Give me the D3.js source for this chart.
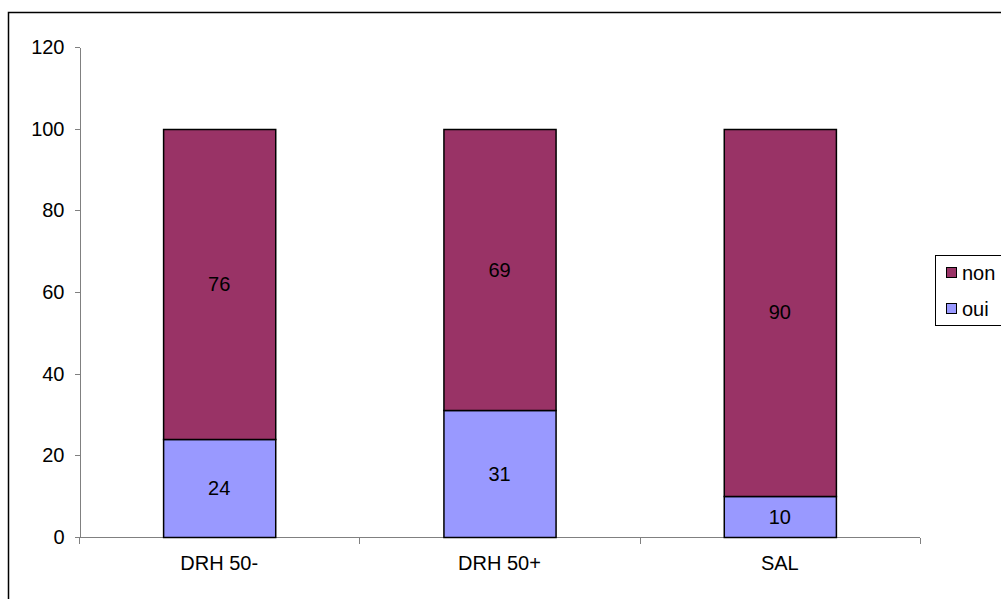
<!DOCTYPE html>
<html lang="fr">
<head>
	<meta charset="utf-8">
	<title>DRH / SAL - oui / non</title>
	<style type="text/css">
		body { margin: 0; background: #fff; }
		svg { display: block; }
		.axis path, .axis line { stroke: #808080; shape-rendering: crispEdges; }
		.axis text { font-family: "Liberation Sans", Arial, sans-serif; font-size: 20px; fill: #000; }
	</style>
</head>
<body>
	<div id="vis"></div>
	<script src="https://cdn.jsdelivr.net/npm/d3@7"></script>
	<script type="text/javascript">

		var categories = ["DRH 50-", "DRH 50+", "SAL"];
		var oui = [24, 31, 10];
		var non = [76, 69, 90];
		var yTicks = [0, 20, 40, 60, 80, 100, 120];
		var seriesNames = ["oui", "non"];
		var seriesColors = ["#9999FF", "#993366"];

		var w = 1001, h = 599;

		var svg = d3.select("#vis").append("svg")
			.attr("width", w)
			.attr("height", h);

		// chart border (cut off at right and bottom)
		svg.append("rect")
			.attr("x", 8.5).attr("y", 12.5)
			.attr("width", 1010).attr("height", 620)
			.attr("fill", "none").attr("stroke", "#000").attr("stroke-width", 1.5);

		var xScale = d3.scaleBand()
			.domain(categories)
			.range([79, 920])
			.paddingInner(0.6)
			.paddingOuter(0.3);

		var yScale = d3.scaleLinear()
			.domain([0, 120])
			.range([537, 47]);

		// stacked data
		var table = categories.map(function(c, i) {
			return { cat: c, oui: oui[i], non: non[i] };
		});
		var stack = d3.stack().keys(seriesNames)(table);

		var color = d3.scaleOrdinal().domain(seriesNames).range(seriesColors);

		// y axis
		svg.append("g")
			.attr("class", "axis")
			.attr("transform", "translate(79.5,0)")
			.call(d3.axisLeft(yScale).tickValues(yTicks).tickSize(5).tickSizeOuter(0).tickPadding(10));

		// x axis with ticks on category boundaries
		var step = xScale.step();
		var xAxisG = svg.append("g")
			.attr("class", "axis")
			.attr("transform", "translate(0,537.5)");
		xAxisG.append("line")
			.attr("x1", 79).attr("x2", 920);
		xAxisG.selectAll("line.tk")
			.data(d3.range(categories.length + 1))
			.enter().append("line")
			.attr("class", "tk")
			.attr("x1", function(d) { return Math.round(79 + d * step) + 0.5; })
			.attr("x2", function(d) { return Math.round(79 + d * step) + 0.5; })
			.attr("y1", 0).attr("y2", 6);
		xAxisG.selectAll("text")
			.data(categories)
			.enter().append("text")
			.attr("x", function(d) { return xScale(d) + xScale.bandwidth() / 2; })
			.attr("y", 32)
			.attr("text-anchor", "middle")
			.text(function(d) { return d; });

		// bars
		var layers = svg.selectAll("g.layer")
			.data(stack)
			.enter().append("g")
			.attr("class", "layer")
			.attr("fill", function(d) { return color(d.key); });

		layers.selectAll("rect")
			.data(function(d) { return d; })
			.enter().append("rect")
			.attr("x", function(d) { return xScale(d.data.cat) + 0.5; })
			.attr("y", function(d) { return Math.round(yScale(d[1])) + 0.5; })
			.attr("width", xScale.bandwidth())
			.attr("height", function(d) { return Math.round(yScale(d[0])) - Math.round(yScale(d[1])); })
			.attr("stroke", "#000")
			.attr("stroke-width", 1.5);

		// value labels
		layers.selectAll("text")
			.data(function(d) { return d; })
			.enter().append("text")
			.attr("x", function(d) { return xScale(d.data.cat) + xScale.bandwidth() / 2; })
			.attr("y", function(d) { return (yScale(d[0]) + yScale(d[1])) / 2 + 7; })
			.attr("text-anchor", "middle")
			.attr("font-family", "Liberation Sans, Arial, sans-serif")
			.attr("font-size", "20px")
			.attr("fill", "#000")
			.text(function(d) { return d[1] - d[0]; });

		// legend
		var legend = svg.append("g").attr("transform", "translate(935,255)");
		legend.append("rect")
			.attr("x", 0.5).attr("y", 0.5)
			.attr("width", 80).attr("height", 70)
			.attr("fill", "#fff").attr("stroke", "#000");
		var items = legend.selectAll("g.item")
			.data(seriesNames.slice().reverse())
			.enter().append("g")
			.attr("class", "item")
			.attr("transform", function(d, i) { return "translate(0," + (18 + i * 36) + ")"; });
		items.append("rect")
			.attr("x", 11.5).attr("y", -5.5)
			.attr("width", 10).attr("height", 10)
			.attr("fill", function(d) { return color(d); })
			.attr("stroke", "#000");
		items.append("text")
			.attr("x", 27).attr("y", 7)
			.attr("font-family", "Liberation Sans, Arial, sans-serif")
			.attr("font-size", "20px")
			.text(function(d) { return d; });

	</script>
</body>
</html>
